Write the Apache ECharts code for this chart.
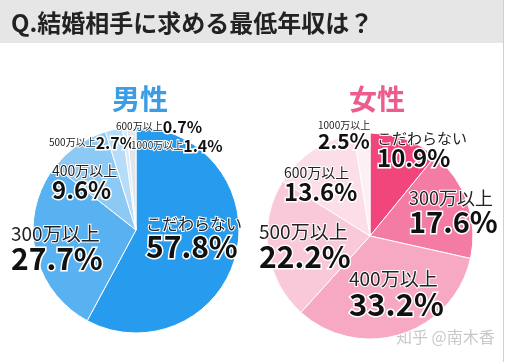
<!DOCTYPE html>
<html><head><meta charset="utf-8">
<script src="https://cdn.jsdelivr.net/npm/echarts@6/dist/echarts.min.js"></script>
<style>html,body{margin:0;padding:0;background:#fff}#c{width:506px;height:362px}</style>
</head><body><div id="c"></div>
<script>
const categories = ['こだわらない','300万以上','400万以上','500万以上','600万以上','1000万以上'];
const maleValues = [57.8, 27.7, 9.6, 2.7, 0.7, 1.4];
const femaleValues = [10.9, 17.6, 33.2, 22.2, 13.6, 2.5];
const titleText = 'Q.結婚相手に求める最低年収は？';
const groupNames = ['男性','女性'];

const FONT = '"Noto Sans CJK JP", "Noto Sans", sans-serif';
const maleColors = ['#279cee','#58b2f1','#8ccaf5','#b6dcf8','#d6eafa','#e2e6ea'];
const femaleColors = ['#f1467c','#f47ba3','#f7a8c2','#f9c9d9','#fbdee7','#fdf0f4'];

// label layout: [x, y, nameSize, pctSize, singleLine]
const maleLabelPos = [
  [146, 215, 16, 30, false],
  [11, 224, 19, 30, false],
  [52, 163, 14, 24, false],
  [49, 135, 10, 16, true],
  [116, 119, 10, 16, true],
  [131, 138, 10, 16, true]
];
const femaleLabelPos = [
  [377, 130, 15, 24, false],
  [409, 189, 18, 29, false],
  [349, 269, 19, 31, false],
  [259, 222, 19, 30, false],
  [284, 165, 14, 24, false],
  [318, 120, 10, 21, false]
];

function buildData(values, colors, pos) {
  return categories.map((name, i) => {
    const p = pos[i];
    return {
      name: name,
      value: values[i],
      itemStyle: { color: colors[i] },
      label: {
        formatter: p[4] ? '{n|{b}}{p|{c}%}' : '{n|{b}}\n{p|{c}%}',
        rich: {
          n: { fontSize: p[2], lineHeight: p[2] + 1, color: '#222', fontFamily: FONT,
               textBorderColor: '#fff', textBorderWidth: 2 },
          p: { fontSize: p[3], lineHeight: p[3] - 1, color: '#111', fontWeight: 'bold', fontFamily: FONT,
               textBorderColor: '#fff', textBorderWidth: 3 }
        }
      }
    };
  });
}

function makeSeries(values, colors, pos, center) {
  return {
    type: 'pie',
    center: center,
    radius: 103,
    startAngle: 90,
    clockwise: true,
    silent: true,
    animation: false,
    itemStyle: { borderColor: '#fff', borderWidth: 1 },
    label: { show: true, position: 'inside' },
    labelLine: { show: false },
    labelLayout: function (params) {
      const p = pos[params.dataIndex];
      return { x: p[0], y: p[1], align: 'left', verticalAlign: 'top' };
    },
    data: buildData(values, colors, pos)
  };
}

const chart = echarts.init(document.getElementById('c'), null, { renderer: 'canvas' });
chart.setOption({
  backgroundColor: '#fff',
  animation: false,
  graphic: [
    { type: 'rect', shape: { x: 0, y: 0, width: 503, height: 43 }, style: { fill: '#e6e6e6' }, z: -1 },
    { type: 'rect', shape: { x: 503, y: 0, width: 1, height: 362 }, style: { fill: '#d0d0d0' }, z: -1 },
    { type: 'text', left: 396, top: 329, style: { text: '知乎 @南木香', fill: '#c8c8c8', font: '16px ' + FONT } }
  ],
  title: [
    { text: titleText, left: 6, top: 6, textStyle: { fontSize: 24, fontWeight: 'bold', color: '#222', fontFamily: FONT } },
    { text: groupNames[0], left: 107, top: 80, textStyle: { fontSize: 28, fontWeight: 'bold', color: '#3a9de6', fontFamily: FONT } },
    { text: groupNames[1], left: 344, top: 80, textStyle: { fontSize: 28, fontWeight: 'bold', color: '#ec5c8e', fontFamily: FONT } }
  ],
  series: [
    makeSeries(maleValues, maleColors, maleLabelPos, [136, 230]),
    makeSeries(femaleValues, femaleColors, femaleLabelPos, [370, 236])
  ]
});
</script></body></html>
